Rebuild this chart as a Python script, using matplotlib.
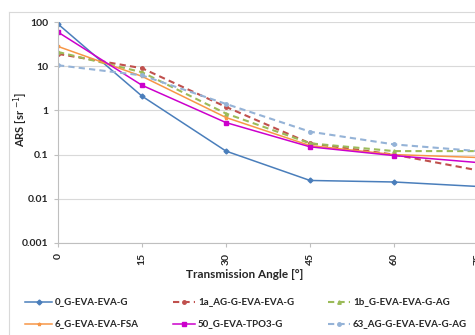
import matplotlib
matplotlib.use("Agg")
import matplotlib.pyplot as plt
from matplotlib.lines import Line2D

# Transmission angle [deg] and ARS values
angles = [0, 15, 30, 45, 60, 75]
ars_0 = [90, 2.1, 0.12, 0.026, 0.024, 0.019]
ars_1a = [19, 9.0, 1.2, 0.18, 0.10, 0.044]
ars_1b = [21, 7.3, 0.85, 0.18, 0.12, 0.12]
ars_6 = [28, 5.9, 0.69, 0.16, 0.10, 0.086]
ars_50 = [59, 3.7, 0.53, 0.15, 0.095, 0.066]
ars_63 = [10.5, 6.2, 1.4, 0.33, 0.17, 0.12]

labels = ["0_G-EVA-EVA-G", "1a_AG-G-EVA-EVA-G", "1b_G-EVA-EVA-G-AG",
          "6_G-EVA-EVA-FSA", "50_G-EVA-TPO3-G", "63_AG-G-EVA-EVA-G-AG"]
series = [ars_0, ars_1a, ars_1b, ars_6, ars_50, ars_63]
colors = ["#4A7EBB", "#C0504D", "#9BBB59", "#F79646", "#CC00CC", "#95B3D7"]
styles = ["-", "--", "--", "-", "-", "--"]
markers = ["D", "o", "^", "*", "s", "o"]

plt.rcParams["font.family"] = ["Lato", "DejaVu Sans"]

W, H = 475, 335
fig = plt.figure(figsize=(W / 100, H / 100), dpi=100)
ax = fig.add_axes([58 / W, 1 - 243 / H, (478 - 58) / W, (243 - 22) / H])

for vals, lab, c, ls, m in zip(series, labels, colors, styles, markers):
    if ls == "--":
        ax.plot(angles, vals, color=c, linestyle=ls, linewidth=1.5, dashes=(3, 2),
                marker=m, markersize=2.5, label=lab)
    else:
        ax.plot(angles, vals, color=c, linestyle=ls, linewidth=1.1,
                marker=m, markersize=2.5, label=lab)

ax.set_yscale("log")
ax.set_ylim(0.001, 100)
ax.set_xlim(0, 75)
ax.set_xticks(angles)
ax.set_xticklabels([str(a) for a in angles], rotation=90, fontsize=7.5, fontweight="bold")
ax.set_yticks([0.001, 0.01, 0.1, 1, 10, 100])
ax.set_yticklabels(["0.001", "0.01", "0.1", "1", "10", "100"], fontsize=7.5, fontweight="bold")
ax.minorticks_off()
ax.yaxis.grid(True, color="#D9D9D9", linewidth=0.8)
ax.set_axisbelow(True)
for s in ["top", "right"]:
    ax.spines[s].set_visible(False)
for s in ["left", "bottom"]:
    ax.spines[s].set_color("#BFBFBF")
ax.tick_params(axis="both", colors="#BFBFBF", labelcolor="#262626", length=3, pad=4)

fig.text(245 / W, 1 - 274 / H, "Transmission Angle [°]", ha="center", va="center",
         fontsize=8.5, fontweight="bold", color="#262626")
fig.text(21 / W, 1 - 119 / H, r"ARS [sr $^{-1}$]", ha="center", va="center",
         rotation=90, fontsize=8, fontweight="bold", color="#262626")

# outer chart border (partly cropped)
fig.add_artist(Line2D([9 / W, 9 / W], [0, 1 - 12 / H], color="#D9D9D9", linewidth=0.8))
fig.add_artist(Line2D([9 / W, 1], [1 - 12 / H, 1 - 12 / H], color="#D9D9D9", linewidth=0.8))

# legend, laid out by hand: 3 columns x 2 rows
col_x = [(25, 52, 55), (173, 195, 198), (328, 350, 353)]
row_y = [302, 324]
for k in range(len(labels)):
    x0, x1, xt = col_x[k % 3]
    y = 1 - row_y[k // 3] / H
    if styles[k] == "--":
        seg = Line2D([x0 / W, x1 / W], [y, y], color=colors[k], linestyle="--",
                     linewidth=1.5, dashes=(3, 2))
    else:
        seg = Line2D([x0 / W, x1 / W], [y, y], color=colors[k], linewidth=1.1)
    fig.add_artist(seg)
    fig.add_artist(Line2D([(x0 + x1) / 2 / W], [y], color=colors[k], marker=markers[k],
                          markersize=2.5, linestyle="none"))
    fig.text(xt / W, y, labels[k], ha="left", va="center", fontsize=7,
             fontweight="bold", color="#262626")

fig.savefig("out.png", dpi=100)
